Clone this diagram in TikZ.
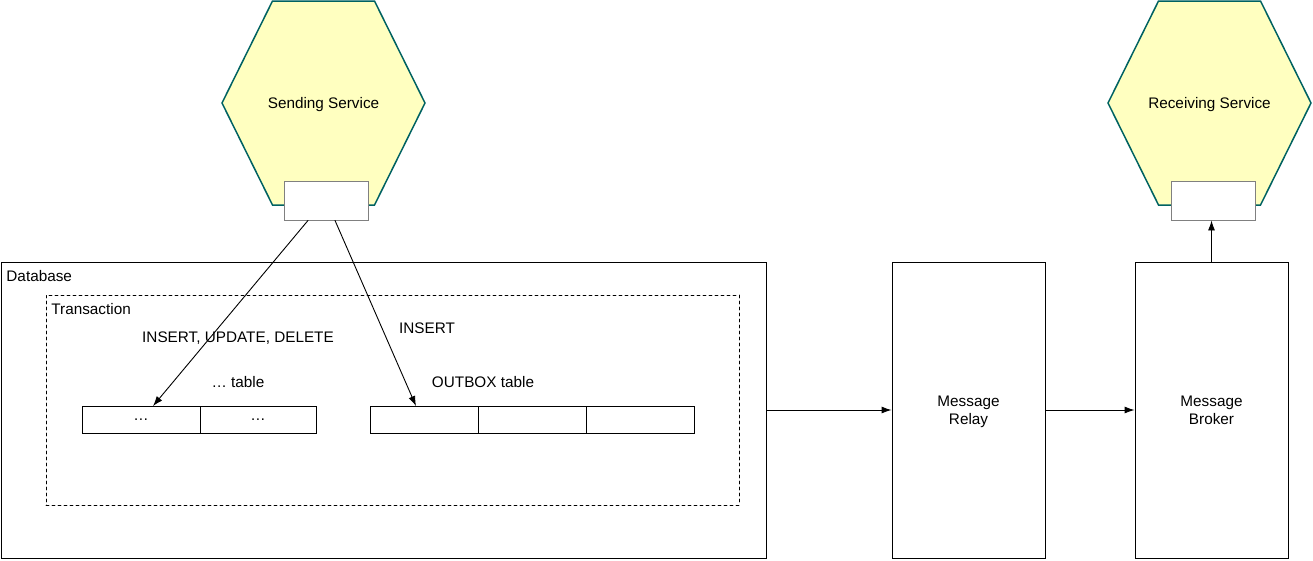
\documentclass[tikz,border=0pt]{standalone}
\usepackage{fontspec}
\setmainfont{Liberation Sans}
\usetikzlibrary{arrows,arrows.meta,calc}
\definecolor{hexline}{HTML}{006262}
\definecolor{hexfill}{HTML}{FFFFC0}
\begin{document}
\begin{tikzpicture}[x=1pt,y=-1pt,cap=round,>={Latex[length=10pt,width=7pt]},line width=0.9pt,
	every node/.style={font=\fontsize{15.3}{18}\selectfont,inner sep=0pt,text depth=0pt},
	hexa/.style={draw=hexline,fill=hexfill,line width=1.5pt,line join=miter},
	port/.style={draw=gray,fill=white,minimum width=84,minimum height=39},
	box/.style={draw,minimum width=153,minimum height=296,align=center},
	cell/.style={draw,minimum height=27}]
			\useasboundingbox (0,0) rectangle (1313,560);
			% services
			\foreach \cx/\nm/\txt in {323.5/send/Sending Service, 1209.5/recv/Receiving Service}{
				\draw[hexa] ({\cx-101.5},103) -- ({\cx-51},1) -- ({\cx+51},1) -- ({\cx+101.5},103) -- ({\cx+51},205) -- ({\cx-51},205) -- cycle;
				\node (\nm) at (\cx,103) {\txt};
			}
			\node[port] (sendport) at (326,200.5) {};
			\node[port] (recvport) at (1213,200.5) {};
			% database
			\node[draw,minimum width=765,minimum height=296] (db) at (383.5,410) {};
			\node[anchor=west] (dblabel) at (6,276) {Database};
			\node[draw,dash pattern=on 3pt off 3pt,minimum width=693,minimum height=210] (tx) at (392.5,400) {};
			\node[anchor=west] (txlabel) at (51,309) {Transaction};
			% tables
			\foreach \i/\x/\w in {1/82/118, 2/200/116}
				\node[cell,minimum width=\w] (tab\i) at ({\x+\w/2},420) {…};
			\foreach \i/\x in {1/370, 2/478, 3/586}
				\node[cell,minimum width=108] (out\i) at ({\x+54},420) {};
			\node (tablabel) at (238,382) {… table};
			\node (outlabel) at (483,382) {OUTBOX table};
			\node (insall) at (238,337) {INSERT, UPDATE, DELETE};
			\node (ins) at (427,328) {INSERT};
			% relay and broker
			\node[box] (relay) at (968.5,410) {Message\\Relay};
			\node[box] (broker) at (1211.5,410) {Message\\Broker};
			% connectors
			\draw[->] ([xshift=-18pt]sendport.south) -- ([xshift=12pt]tab1.north);
			\draw[->] ([xshift=9pt]sendport.south) -- ([xshift=-8pt]out1.north);
			\draw[->] (db.east) -- (relay.west);
			\draw[->] (relay.east) -- (broker.west);
			\draw[->] (broker.north) -- (broker.north |- recvport.south);
		\end{tikzpicture}
\end{document}
